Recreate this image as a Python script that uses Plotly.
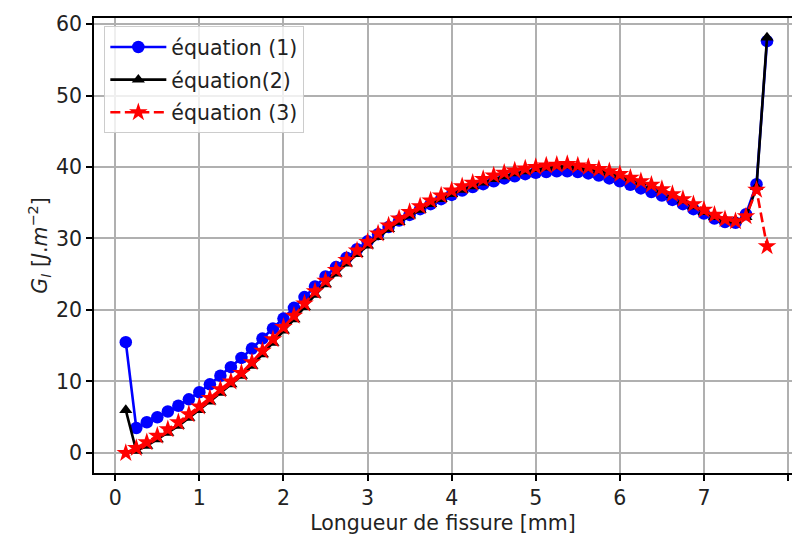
import plotly.graph_objects as go

crack_length = [0.125, 0.25, 0.375, 0.5, 0.625, 0.75, 0.875, 1.0, 1.125, 1.25, 1.375, 1.5,
                1.625, 1.75, 1.875, 2.0, 2.125, 2.25, 2.375, 2.5, 2.625, 2.75, 2.875, 3.0,
                3.125, 3.25, 3.375, 3.5, 3.625, 3.75, 3.875, 4.0, 4.125, 4.25, 4.375, 4.5,
                4.625, 4.75, 4.875, 5.0, 5.125, 5.25, 5.375, 5.5, 5.625, 5.75, 5.875, 6.0,
                6.125, 6.25, 6.375, 6.5, 6.625, 6.75, 6.875, 7.0, 7.125, 7.25, 7.375, 7.5,
                7.625, 7.75]

eq1 = [15.5, 3.5, 4.3, 5.0, 5.8, 6.6, 7.5, 8.5, 9.6, 10.8, 12.0, 13.3,
       14.6, 16.0, 17.4, 18.8, 20.3, 21.8, 23.3, 24.7, 26.0, 27.3, 28.5, 29.6,
       30.6, 31.6, 32.5, 33.3, 34.1, 34.8, 35.5, 36.1, 36.7, 37.2, 37.6, 38.0,
       38.4, 38.7, 39.0, 39.2, 39.3, 39.4, 39.4, 39.3, 39.1, 38.8, 38.4, 38.0,
       37.5, 37.0, 36.5, 36.0, 35.4, 34.8, 34.1, 33.5, 32.8, 32.3, 32.2, 33.4,
       37.6, 57.6]

eq2 = [6.0, 0.3, 1.0, 1.9, 2.8, 3.8, 4.9, 6.0, 7.2, 8.4, 9.6, 10.8,
       12.2, 13.8, 15.4, 17.1, 18.7, 20.4, 22.1, 23.6, 25.1, 26.5, 27.8, 29.0,
       30.2, 31.3, 32.3, 33.2, 34.0, 34.8, 35.5, 36.2, 36.8, 37.3, 37.8, 38.3,
       38.7, 39.1, 39.4, 39.7, 39.9, 40.1, 40.2, 40.0, 39.8, 39.5, 39.2, 38.8,
       38.4, 37.9, 37.4, 36.8, 36.1, 35.3, 34.5, 33.7, 33.0, 32.6, 32.5, 33.0,
       37.2, 58.1]

eq3 = [0.0, 0.7, 1.5, 2.4, 3.3, 4.3, 5.4, 6.5, 7.7, 8.9, 10.0, 11.2,
       12.7, 14.3, 15.9, 17.6, 19.2, 20.9, 22.6, 24.1, 25.6, 27.0, 28.3, 29.5,
       30.7, 31.8, 32.8, 33.7, 34.5, 35.3, 36.0, 36.7, 37.3, 37.8, 38.3, 38.8,
       39.2, 39.5, 39.8, 40.0, 40.2, 40.3, 40.4, 40.2, 40.0, 39.7, 39.4, 39.0,
       38.5, 38.0, 37.5, 36.9, 36.2, 35.5, 34.8, 34.0, 33.3, 32.7, 32.4, 33.1,
       36.8, 28.9]

x_ticks = [0, 1, 2, 3, 4, 5, 6, 7, 8]
y_ticks = [0, 10, 20, 30, 40, 50, 60]

FONT = "DejaVu Sans"
TXT = "#222222"
FS = 20.5

fig = go.Figure()
fig.add_trace(go.Scatter(x=crack_length, y=eq1, mode="lines+markers", name="équation (1)",
                         legendgroup="g1",
                         line=dict(color="#0000ff", width=2.6),
                         marker=dict(symbol="circle", size=12.5, color="#0000ff", line=dict(width=0))))
fig.add_trace(go.Scatter(x=crack_length, y=eq2, mode="lines+markers", name="équation(2)",
                         legendgroup="g2",
                         line=dict(color="#000000", width=2.6),
                         marker=dict(symbol="triangle-up", size=11.5, color="#000000", line=dict(width=0))))
fig.add_trace(go.Scatter(x=crack_length, y=eq3, mode="lines+markers", name="équation (3)",
                         legendgroup="g3",
                         line=dict(color="#ff0000", width=2.6, dash="10px,4.5px"),
                         marker=dict(symbol="star", size=14, color="#ff0000", line=dict(width=0))))

fig.update_layout(
    width=792, height=541,
    margin=dict(l=94, r=0, t=18, b=68, autoexpand=False),
    paper_bgcolor="white", plot_bgcolor="white",
    font=dict(family=FONT, size=FS, color=TXT),
    showlegend=True,
    legend=dict(x=0.0148, y=0.982, xanchor="left", yanchor="top",
                bgcolor="rgba(255,255,255,0.8)", bordercolor="#cccccc", borderwidth=1,
                font=dict(family=FONT, size=FS, color=TXT), tracegroupgap=3,
                itemwidth=56),
    xaxis=dict(range=[-0.253, 8.047], tickvals=x_ticks, ticktext=[str(v) for v in x_ticks],
               showgrid=True, gridcolor="#b0b0b0", gridwidth=1.5, zeroline=False,
               showline=True, linecolor="black", linewidth=1.5, mirror=True,
               ticks="outside", ticklen=6, tickwidth=1.5, tickcolor="black",
               tickfont=dict(family=FONT, size=FS, color=TXT),
               title=dict(text="Longueur de fissure [mm]", standoff=6,
                          font=dict(family=FONT, size=FS, color=TXT))),
    yaxis=dict(range=[-2.8, 60.84], tickvals=y_ticks, ticktext=[str(v) for v in y_ticks],
               showgrid=True, gridcolor="#b0b0b0", gridwidth=1.5, zeroline=False,
               showline=True, linecolor="black", linewidth=1.5, mirror=False,
               ticks="outside", ticklen=6, tickwidth=1.5, tickcolor="black",
               tickfont=dict(family=FONT, size=FS, color=TXT),
               title=dict(text="<i>G<sub>I</sub></i> [<i>J</i>.<i>m</i><sup>−2</sup>]", standoff=3,
                          font=dict(family=FONT, size=FS, color=TXT))),
)

fig.write_html("out.html", config={"displayModeBar": False},
               post_script="document.body.style.margin='0px';document.body.style.overflow='hidden';")
